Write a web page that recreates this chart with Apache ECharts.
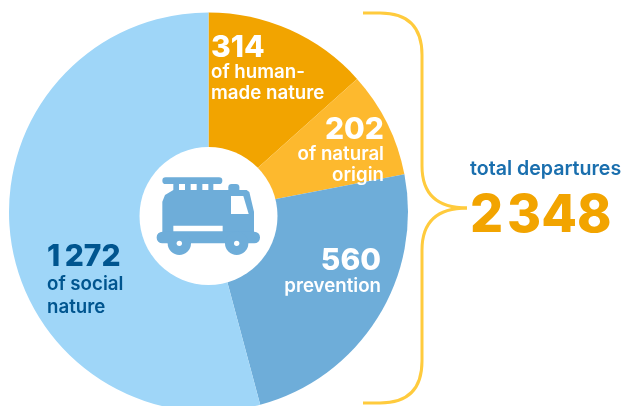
<!DOCTYPE html>
<html>
<head>
<meta charset="utf-8">
<style>
  html, body { margin: 0; padding: 0; background: #fff; }
  #main { width: 624px; height: 406px; }
</style>
<script src="https://cdn.jsdelivr.net/npm/echarts@6/dist/echarts.min.js"></script>
</head>
<body>
<div id="main"></div>
<script>
  var values = [314, 202, 560, 1272];
  var valueLabels = ['314', '202', '560', '1\u2009272'];
  var categories = ['of human-\nmade nature', 'of natural\norigin', 'prevention', 'of social\nnature'];
  var colors = ['#F2A400', '#FDB92E', '#6EADD9', '#9FD6F8'];
  var textColors = ['#fff', '#fff', '#fff', '#00558F'];
  var totalTitle = 'total departures';
  var totalLabel = '2\u200A348';

  // label block layout: x, y, align, number line height, text line height
  var labelPos = [
    [211, 34, 'left', 28, 21],
    [384, 116, 'right', 28, 21],
    [381, 246, 'right', 30, 21],
    [47, 240, 'left', 33, 23]
  ];
  var fontName = 'Inter';
  var blue = '#6EADD9';
  var braceStyle = { fill: 'none', stroke: '#FFCB3D', lineWidth: 3 };

  function braceLine(x1, y1, x2, y2) {
    return { type: 'line', shape: { x1: x1, y1: y1, x2: x2, y2: y2 }, style: braceStyle };
  }
  function braceCurve(x1, y1, cx, cy, x2, y2) {
    return { type: 'bezierCurve', shape: { x1: x1, y1: y1, cpx1: cx, cpy1: cy, x2: x2, y2: y2 }, style: braceStyle };
  }

  var myChart = echarts.init(document.getElementById('main'));
  myChart.setOption({
    animation: false,
    series: [{
      type: 'pie',
      z: -1,
      center: [208.5, 212],
      radius: [0, 199.5],
      startAngle: 90,
      clockwise: true,
      silent: true,
      labelLine: { show: false },
      data: values.map(function (v, i) {
        return {
          value: v,
          name: categories[i],
          itemStyle: { color: colors[i] },
          label: {
            show: true,
            position: 'inside',
            align: labelPos[i][2],
            verticalAlign: 'top',
            formatter: '{n|' + valueLabels[i] + '}\n' + categories[i].split('\n').map(function (s) {
              return '{t|' + s + '}';
            }).join('\n'),
            rich: {
              n: { fontFamily: fontName, fontWeight: 800, fontSize: 30, lineHeight: labelPos[i][3], color: textColors[i], align: labelPos[i][2] },
              t: { fontFamily: fontName, fontWeight: 600, fontSize: 18.7, lineHeight: labelPos[i][4], color: textColors[i], align: labelPos[i][2] }
            }
          }
        };
      }),
      labelLayout: function (params) {
        var p = labelPos[params.dataIndex];
        return { x: p[0], y: p[1], align: p[2], verticalAlign: 'top', hideOverlap: false };
      }
    }],
    graphic: [
      { type: 'circle', shape: { cx: 208.5, cy: 216, r: 69 }, style: { fill: '#fff' } },
      {
        // truck icon, drawn in the coordinates of a 3x crop
        type: 'group', x: 130, y: 140, scaleX: 1 / 3, scaleY: 1 / 3,
        children: [
          { type: 'rect', shape: { x: 97, y: 112, width: 180, height: 20, r: 10 }, style: { fill: blue } },
          { type: 'rect', shape: { x: 295, y: 132, width: 33, height: 30, r: 10 }, style: { fill: blue } },
          { type: 'polygon', shape: { points: [[97, 290], [97, 185], [105, 165], [130, 150], [130, 132], [250, 132], [250, 150], [350, 150], [358, 156], [372, 215], [372, 290]] }, style: { fill: blue } },
          { type: 'rect', shape: { x: 80, y: 275, width: 310, height: 35, r: 17 }, style: { fill: blue } },
          { type: 'circle', shape: { cx: 148, cy: 310, r: 35 }, style: { fill: blue } },
          { type: 'circle', shape: { cx: 320, cy: 310, r: 35 }, style: { fill: blue } },
          { type: 'circle', shape: { cx: 148, cy: 310, r: 8 }, style: { fill: '#fff' } },
          { type: 'circle', shape: { cx: 320, cy: 310, r: 8 }, style: { fill: '#fff' } },
          { type: 'rect', shape: { x: 147, y: 132, width: 18, height: 18 }, style: { fill: '#fff' } },
          { type: 'rect', shape: { x: 182, y: 132, width: 18, height: 18 }, style: { fill: '#fff' } },
          { type: 'rect', shape: { x: 217, y: 132, width: 18, height: 18 }, style: { fill: '#fff' } },
          { type: 'rect', shape: { x: 130, y: 257, width: 148, height: 17 }, style: { fill: '#fff' } },
          { type: 'polygon', shape: { points: [[303, 168], [340, 168], [356, 222], [303, 222]] }, style: { fill: '#fff' } }
        ]
      },
      braceLine(363, 13, 380, 13),
      braceCurve(380, 13, 422, 13, 422, 55),
      braceLine(422, 55, 422, 166),
      braceCurve(422, 166, 422, 208, 467, 208),
      braceCurve(467, 208, 422, 208, 422, 250),
      braceLine(422, 250, 422, 361),
      braceCurve(422, 361, 422, 403, 380, 403),
      braceLine(380, 403, 363, 403),
      {
        type: 'text', x: 470, y: 159,
        style: { text: totalTitle, fontFamily: fontName, fontWeight: 600, fontSize: 19.6, fill: '#1A6FAE' }
      },
      {
        type: 'text', x: 470, y: 190,
        style: { text: totalLabel, fontFamily: fontName, fontWeight: 800, fontSize: 52, fill: '#F2A400' }
      }
    ]
  });
</script>
</body>
</html>
